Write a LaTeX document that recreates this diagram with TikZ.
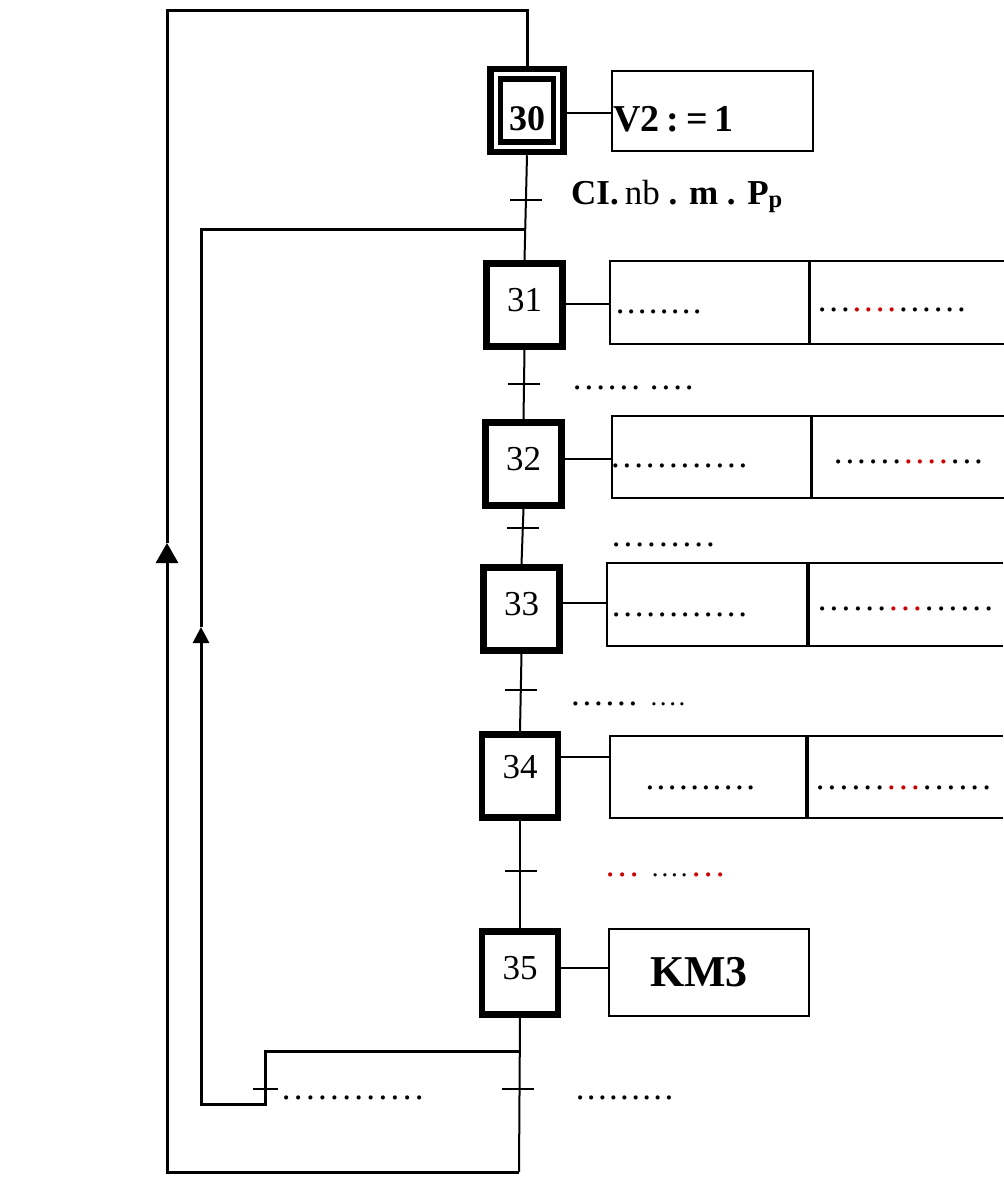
\documentclass[tikz,border=0pt]{standalone}
\usepackage{fontspec}
\setmainfont{Liberation Serif}
\usetikzlibrary{arrows.meta,calc}
\definecolor{dotred}{RGB}{204,0,0}
\newcommand\kd[2]{\foreach\ii in {1,...,#2}{\makebox[#1]{.}}}
\newcommand\rd[2]{{\color{dotred}\kd{#1}{#2}}}
\begin{document}
\begin{tikzpicture}[x=1pt,y=-1pt,
  stepbox/.style={draw, line width=6.5pt, minimum width=76pt, minimum height=83pt, inner sep=0pt, text depth=10pt, font=\fontsize{35}{35}\selectfont},
  actbox/.style={draw, line width=2pt, inner sep=0pt},
  openbox/.style={inner sep=0pt, minimum width=194pt},
  conn/.style={line width=2pt},
  loopline/.style={line width=3pt},
  tick/.style={line width=2.5pt},
  dtxt/.style={anchor=base west, inner sep=0pt, font=\fontsize{35}{35}\selectfont},
  lbl/.style={anchor=base west, inner sep=0pt}]
\useasboundingbox (0,0) rectangle (1004,1184);
\fill[white] (0,0) rectangle (1004,1184);

% steps
\node[draw, line width=6.5pt, minimum width=73pt, minimum height=83pt, inner sep=0pt] (s30o) at (527,110.5) {};
\node[draw, line width=5.5pt, minimum width=53pt, minimum height=63pt, inner sep=0pt] (s30) at (527,110.5) {};
\node[font=\bfseries\fontsize{36}{36}\selectfont, anchor=base, inner sep=0pt] (l30) at (527,130) {30};
\node[stepbox] (s31) at (524.5,305) {31};
\node[stepbox] (s32) at (523.5,464) {32};
\node[stepbox] (s33) at (521.5,609) {33};
\node[stepbox, text depth=18pt] (s34) at (520,776) {34};
\node[stepbox] (s35) at (520,973) {35};

% action boxes
\node[actbox, minimum width=201pt, minimum height=80pt] (a30) at (712.5,111) {};
\node[actbox, minimum width=199pt, minimum height=83pt] (a31) at (709.5,302.5) {};
\node[openbox, minimum height=83pt] (b31) at (907,302.5) {};
\node[actbox, minimum width=200pt, minimum height=82pt] (a32) at (712,457) {};
\node[openbox, minimum height=82pt] (b32) at (908.5,457) {};
\node[actbox, minimum width=200pt, minimum height=83pt] (a33) at (707,604.5) {};
\node[openbox, minimum height=83pt] (b33) at (906,604.5) {};
\node[actbox, minimum width=196pt, minimum height=82pt] (a34) at (708,777) {};
\node[openbox, minimum height=82pt] (b34) at (905.5,777) {};
\node[actbox, minimum width=200pt, minimum height=87pt] (a35) at (709,972.5) {};
\foreach \b in {b31,b32,b33,b34}
  \draw[line width=2pt] (\b.north east) -- (\b.north west) -- (\b.south west) -- (\b.south east);

% texts
\node[lbl, font=\bfseries\fontsize{38}{38}\selectfont] (tv2) at (613,131) {V2\hspace{7pt}:\hspace{7pt}=\hspace{7pt}1};
\node[lbl, font=\fontsize{35}{35}\selectfont] (tci) at (571,204) {\textbf{CI.}\hspace{6pt}nb \textbf{. m . P\textsubscript{p}}};
\node[font=\bfseries\fontsize{44}{44}\selectfont, inner sep=0pt] (tkm) at (699,972) {KM3};

\node[dtxt] (d31a) at (614.5,313) {\kd{11pt}{8}};
\node[dtxt] (d31b) at (816.2,311) {\kd{11.6pt}{3}\rd{11.6pt}{4}\kd{11.6pt}{6}};
\node[dtxt] (d31t) at (571.2,389) {\kd{11.7pt}{6}\hspace{6.8pt}\kd{11.7pt}{4}};
\node[dtxt] (d32a) at (609.5,467) {\kd{11.6pt}{12}};
\node[dtxt] (d32b) at (832.15,463) {\kd{11.7pt}{6}\rd{11.7pt}{4}\kd{11.7pt}{3}};
\node[dtxt] (d32t) at (610.1,546) {\kd{11.8pt}{9}};
\node[dtxt] (d33a) at (610.25,616) {\kd{11.5pt}{12}};
\node[dtxt] (d33b) at (816.05,610) {\kd{11.9pt}{6}\rd{11.9pt}{3}\kd{11.9pt}{6}};
\node[dtxt] (d33t) at (569.55,705) {\kd{11.5pt}{6}\hspace{10.45pt}{\fontsize{27}{27}\selectfont\kd{9.4pt}{4}}};
\node[dtxt] (d34a) at (644.1,789) {\kd{11.2pt}{10}};
\node[dtxt] (d34b) at (814.05,789) {\kd{11.9pt}{6}\rd{11.9pt}{3}\kd{11.9pt}{6}};
\node[dtxt] (d34t) at (604,876) {\rd{12pt}{3}\hspace{10.15pt}{\fontsize{27}{27}\selectfont\kd{9.7pt}{4}}\hspace{1pt}\rd{12pt}{3}};
\node[dtxt] (d35r) at (574.45,1099) {\kd{11.1pt}{9}};
\node[dtxt] (d35l) at (279.95,1099) {\kd{12.1pt}{12}};

% links step -> action
\draw[conn] (s30o.east |- 0,113) -- (a30.west |- 0,113);
\draw[conn] (s31.east |- 0,304) -- (a31.west |- 0,304);
\draw[conn] (s32.east |- 0,459) -- (a32.west |- 0,459);
\draw[conn] (s33.east |- 0,603) -- (a33.west |- 0,603);
\draw[conn] (s34.east |- 0,757) -- (a34.west |- 0,757);
\draw[conn] (s35.east |- 0,968) -- (a35.west |- 0,968);

% coordinates
\coordinate (tl) at (167,10);
\coordinate (tr) at (527,10);
\coordinate (bl) at (167,1172);
\coordinate (br) at (519,1172);
\coordinate (al) at (167,543);
\coordinate (j1) at (525,229);
\coordinate (il1) at (201,229);
\coordinate (ai) at (201,627);
\coordinate (il2) at (201,1104);
\coordinate (il3) at (265,1104);
\coordinate (il4) at (265,1051);
\coordinate (j2) at (519,1051);

% main sequence
\draw[conn] (s30o.south) -- (s31.north);
\draw[conn] (s31.south) -- (s32.north);
\draw[conn] (s32.south) -- (s33.north);
\draw[conn] (s33.south) -- (s34.north);
\draw[conn] (s34.south) -- (s35.north);
\draw[conn] (s35.south) -- (br);

% transitions
\foreach \x/\y in {526/200, 524/384, 523/528, 521/690, 521/871, 518/1089}
  \draw[tick] (\x-16,\y) -- (\x+16,\y);
\draw[tick] (253,1089) -- (278,1089);

% outer loop
\draw[loopline, -{Triangle[length=20pt,width=22pt]}] (br) -- (bl) -- (al);
\draw[loopline] (al) -- (tl) -- (tr) -- (s30o.north);

% inner loop
\draw[loopline, -{Triangle[length=16pt,width=16pt]}] (j2) -- (il4) -- (il3) -- (il2) -- (ai);
\draw[loopline] (ai) -- (il1) -- (j1);
\end{tikzpicture}
\end{document}
